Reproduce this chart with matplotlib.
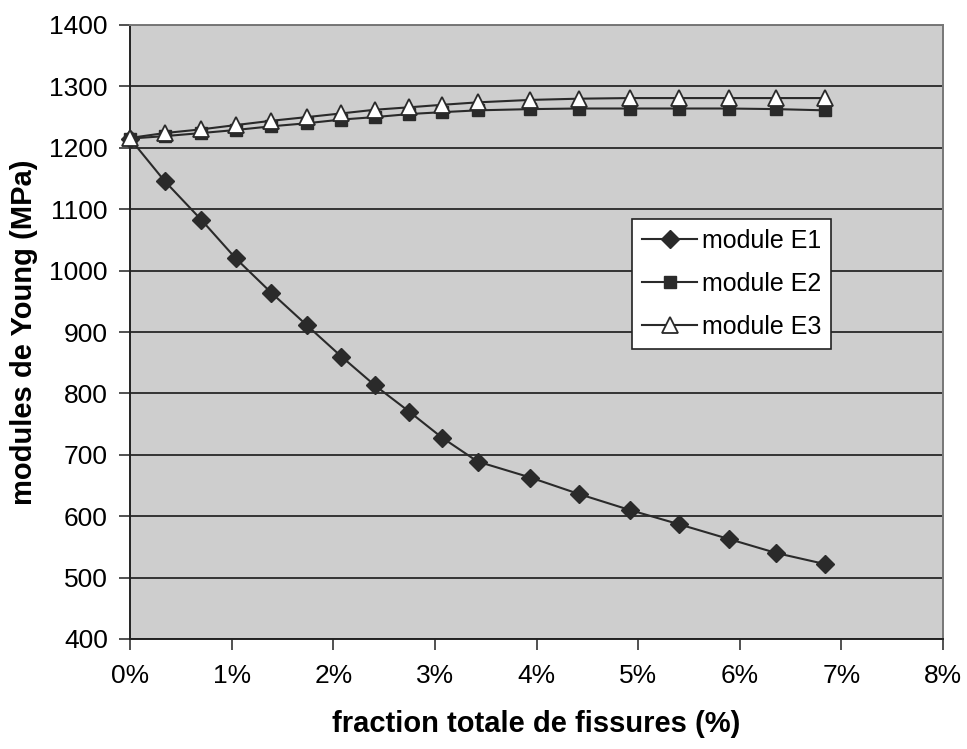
import matplotlib
matplotlib.use('Agg')
import matplotlib.pyplot as plt
from matplotlib.ticker import FuncFormatter

plt.rcParams['font.family'] = ['Liberation Sans', 'DejaVu Sans']

# fraction totale de fissures (%)
fraction = [0, 0.34, 0.70, 1.04, 1.39, 1.74, 2.08, 2.41, 2.75, 3.07, 3.42,
            3.94, 4.42, 4.92, 5.40, 5.89, 6.36, 6.84]
# modules de Young (MPa)
E1 = [1215, 1146, 1083, 1020, 964, 911, 860, 813, 770, 728, 689,
      663, 636, 610, 587, 563, 540, 522]
E2 = [1215, 1219, 1224, 1229, 1235, 1240, 1246, 1250, 1255, 1258, 1261,
      1263, 1264, 1264, 1264, 1264, 1263, 1261]
E3 = [1216, 1224, 1230, 1237, 1244, 1250, 1256, 1262, 1266, 1270, 1274,
      1278, 1280, 1281, 1281, 1281, 1281, 1281]

fig = plt.figure(figsize=(9.67, 7.49), dpi=100)
ax = fig.add_axes([130/967, 1-639/749, (943-130)/967, (639-25)/749])
ax.set_facecolor('#cecece')

ln = '#2a2a2a'
ax.plot(fraction, E1, color=ln, lw=1.5, marker='D', ms=9, mfc=ln, mec=ln,
        label='module E1', zorder=3, clip_on=False)
ax.plot(fraction, E2, color=ln, lw=1.5, marker='s', ms=8, mfc=ln, mec=ln,
        label='module E2', zorder=3, clip_on=False)
ax.plot(fraction, E3, color=ln, lw=1.5, marker='^', ms=11, mfc='white', mec=ln,
        mew=1.3, label='module E3', zorder=4, clip_on=False)

ax.set_xlim(0, 8)
ax.set_ylim(400, 1400)
ax.set_xticks(range(0, 9))
ax.set_yticks(range(400, 1401, 100))
ax.xaxis.set_major_formatter(FuncFormatter(lambda v, p: '%d%%' % v))
ax.yaxis.grid(True, color='#333333', lw=1.4)
ax.set_axisbelow(True)
ax.tick_params(axis='both', labelsize=19, length=8, width=1.2, color='#333333')
ax.tick_params(axis='x', pad=10)
ax.tick_params(axis='y', pad=8)

for s in ['left', 'bottom']:
    ax.spines[s].set_color('#222222')
    ax.spines[s].set_linewidth(1.4)
for s in ['top', 'right']:
    ax.spines[s].set_color('#777777')
    ax.spines[s].set_linewidth(1.4)

ax.set_xlabel('fraction totale de fissures (%)', fontsize=21, fontweight='bold', labelpad=16)
ax.set_ylabel('modules de Young (MPa)', fontsize=21, fontweight='bold', labelpad=8)

leg = ax.legend(loc='upper left', bbox_to_anchor=(632/967, 1-219/749),
                bbox_transform=fig.transFigure, borderaxespad=0, fontsize=18,
                frameon=True, fancybox=False, edgecolor='#222222',
                handlelength=2.2, handletextpad=0.2, labelspacing=0.75,
                borderpad=0.4)
leg.get_frame().set_linewidth(1.2)
leg.get_frame().set_facecolor('white')
leg.get_frame().set_alpha(1)

fig.savefig('out.png', dpi=100)
